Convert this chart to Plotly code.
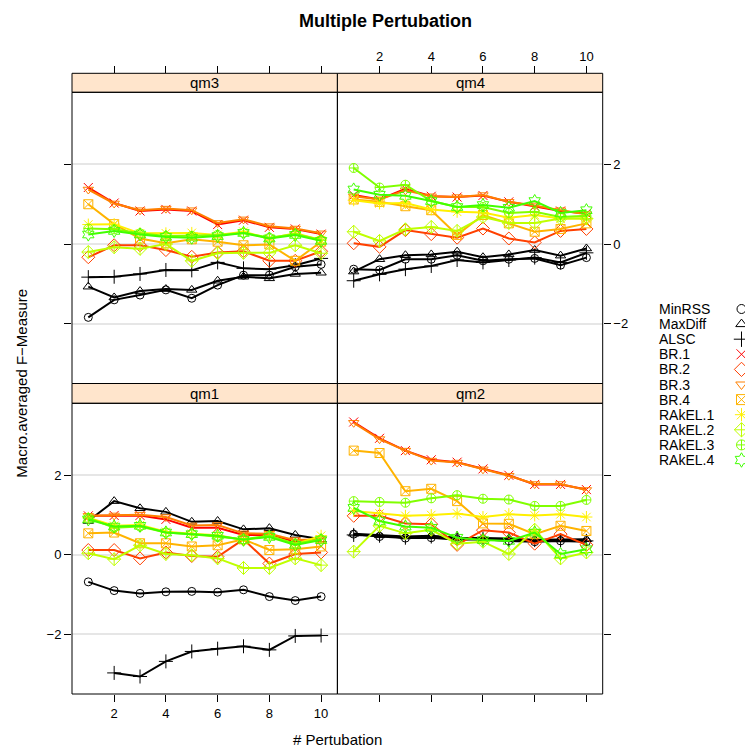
import plotly.graph_objects as go

W, H = 753, 751
OFF = 8  # page body margin of the browser
FW, FH = W - OFF, H - OFF

x_values = [1, 2, 3, 4, 5, 6, 7, 8, 9, 10]
methods = ["MinRSS", "MaxDiff", "ALSC", "BR.1", "BR.2", "BR.3", "BR.4",
           "RAkEL.1", "RAkEL.2", "RAkEL.3", "RAkEL.4"]
panels = ["qm1", "qm2", "qm3", "qm4"]
x_ticks = [2, 4, 6, 8, 10]
y_ticks = [-2, 0, 2]
y_tick_text = ["\u22122", "0", "2"]

# ---- qm1 ----
qm1_MinRSS = [-0.68, -0.90, -0.97, -0.93, -0.92, -0.94, -0.88, -1.05, -1.15, -1.05]
qm1_MaxDiff = [0.85, 1.35, 1.17, 1.08, 0.83, 0.85, 0.64, 0.67, 0.50, 0.39]
qm1_ALSC = [None, -2.97, -3.06, -2.68, -2.43, -2.36, -2.30, -2.39, -2.04, -2.03]
qm1_BR1 = [0.98, 0.99, 0.99, 0.89, 0.68, 0.68, 0.50, 0.50, 0.33, 0.37]
qm1_BR2 = [0.12, 0.12, -0.09, 0.06, -0.03, -0.05, 0.39, -0.22, 0.02, 0.06]
qm1_BR3 = [0.98, 0.99, 1.01, 0.95, 0.74, 0.75, 0.54, 0.53, 0.37, 0.39]
qm1_BR4 = [0.54, 0.56, 0.29, 0.29, 0.21, 0.24, 0.39, 0.12, 0.14, 0.21]
qm1_RAkEL1 = [0.93, 0.73, 0.75, 0.58, 0.53, 0.49, 0.37, 0.48, 0.27, 0.48]
qm1_RAkEL2 = [0.04, -0.11, 0.24, 0.02, -0.01, -0.09, -0.33, -0.33, -0.09, -0.26]
qm1_RAkEL3 = [0.93, 0.68, 0.71, 0.56, 0.52, 0.45, 0.39, 0.48, 0.28, 0.39]
qm1_RAkEL4 = [0.89, 0.71, 0.73, 0.56, 0.52, 0.48, 0.38, 0.45, 0.25, 0.37]

# ---- qm2 ----
qm2_MinRSS = [0.52, 0.46, 0.42, 0.43, 0.38, 0.39, 0.35, 0.33, 0.35, 0.33]
qm2_MaxDiff = [0.53, 0.49, 0.46, 0.48, 0.43, 0.42, 0.41, 0.38, 0.39, 0.39]
qm2_ALSC = [0.50, 0.48, 0.43, 0.46, 0.42, 0.41, 0.38, 0.37, 0.37, 0.35]
qm2_BR1 = [3.34, 2.93, 2.62, 2.39, 2.33, 2.16, 2.00, 1.77, 1.77, 1.64]
qm2_BR2 = [0.98, 0.98, 0.79, 0.77, 0.25, 0.62, 0.56, 0.28, 0.52, 0.25]
qm2_BR3 = [3.32, 2.91, 2.62, 2.37, 2.32, 2.15, 1.99, 1.78, 1.78, 1.63]
qm2_BR4 = [2.62, 2.56, 1.60, 1.66, 1.35, 0.79, 0.78, 0.52, 0.73, 0.60]
qm2_RAkEL1 = [1.10, 1.04, 0.98, 1.00, 1.04, 0.95, 1.02, 0.99, 1.02, 0.95]
qm2_RAkEL2 = [0.08, 0.73, 0.54, 0.63, 0.28, 0.33, 0.02, 0.63, -0.09, 0.06]
qm2_RAkEL3 = [1.35, 1.33, 1.31, 1.42, 1.50, 1.41, 1.39, 1.23, 1.23, 1.38]
qm2_RAkEL4 = [1.18, 0.85, 0.71, 0.68, 0.43, 0.37, 0.35, 0.56, 0.02, 0.14]

# ---- qm3 ----
qm3_MinRSS = [-1.84, -1.40, -1.28, -1.15, -1.36, -1.03, -0.78, -0.78, -0.57, -0.51]
qm3_MaxDiff = [-1.07, -1.34, -1.18, -1.13, -1.15, -0.92, -0.82, -0.86, -0.75, -0.72]
qm3_ALSC = [-0.83, -0.82, -0.75, -0.65, -0.66, -0.46, -0.61, -0.63, -0.53, -0.36]
qm3_BR1 = [1.42, 1.03, 0.83, 0.87, 0.83, 0.49, 0.60, 0.42, 0.38, 0.25]
qm3_BR2 = [-0.33, -0.03, -0.03, -0.15, -0.32, -0.21, -0.18, -0.42, -0.42, -0.18]
qm3_BR3 = [1.37, 1.02, 0.85, 0.89, 0.85, 0.53, 0.62, 0.45, 0.39, 0.27]
qm3_BR4 = [1.00, 0.50, 0.14, 0.02, 0.12, 0.06, -0.03, -0.01, -0.42, 0.06]
qm3_RAkEL1 = [0.49, 0.50, 0.27, 0.27, 0.28, 0.23, 0.31, 0.14, 0.27, 0.10]
qm3_RAkEL2 = [-0.20, -0.08, -0.12, 0.00, -0.42, -0.23, -0.22, -0.22, -0.03, -0.23]
qm3_RAkEL3 = [0.39, 0.37, 0.27, 0.20, 0.21, 0.23, 0.28, 0.16, 0.25, 0.10]
qm3_RAkEL4 = [0.24, 0.33, 0.24, 0.18, 0.16, 0.20, 0.28, 0.14, 0.23, 0.08]

# ---- qm4 ----
qm4_MinRSS = [-0.63, -0.65, -0.38, -0.38, -0.28, -0.42, -0.38, -0.36, -0.53, -0.34]
qm4_MaxDiff = [-0.69, -0.38, -0.28, -0.26, -0.19, -0.33, -0.26, -0.15, -0.29, -0.11]
qm4_ALSC = [-0.92, -0.76, -0.63, -0.55, -0.40, -0.46, -0.40, -0.34, -0.46, -0.22]
qm4_BR1 = [1.23, 1.12, 1.39, 1.20, 1.18, 1.22, 1.06, 0.95, 0.83, 0.77]
qm4_BR2 = [0.02, -0.07, 0.35, 0.25, 0.16, 0.39, 0.14, 0.04, 0.33, 0.38]
qm4_BR3 = [1.20, 1.12, 1.35, 1.20, 1.18, 1.23, 1.06, 0.97, 0.85, 0.75]
qm4_BR4 = [1.12, 1.06, 0.95, 0.85, 0.23, 0.73, 0.52, 0.31, 0.38, 0.52]
qm4_RAkEL1 = [1.10, 1.02, 1.03, 0.87, 0.81, 0.79, 0.66, 0.73, 0.64, 0.64]
qm4_RAkEL2 = [0.31, 0.08, 0.37, 0.43, 0.33, 0.68, 0.53, 0.53, 0.64, 0.64]
qm4_RAkEL3 = [1.91, 1.42, 1.49, 1.08, 0.93, 0.93, 0.78, 0.81, 0.68, 0.71]
qm4_RAkEL4 = [1.37, 1.24, 1.21, 1.08, 0.93, 0.98, 0.91, 1.08, 0.78, 0.85]

series = {
    "qm1": [qm1_MinRSS, qm1_MaxDiff, qm1_ALSC, qm1_BR1, qm1_BR2, qm1_BR3, qm1_BR4,
            qm1_RAkEL1, qm1_RAkEL2, qm1_RAkEL3, qm1_RAkEL4],
    "qm2": [qm2_MinRSS, qm2_MaxDiff, qm2_ALSC, qm2_BR1, qm2_BR2, qm2_BR3, qm2_BR4,
            qm2_RAkEL1, qm2_RAkEL2, qm2_RAkEL3, qm2_RAkEL4],
    "qm3": [qm3_MinRSS, qm3_MaxDiff, qm3_ALSC, qm3_BR1, qm3_BR2, qm3_BR3, qm3_BR4,
            qm3_RAkEL1, qm3_RAkEL2, qm3_RAkEL3, qm3_RAkEL4],
    "qm4": [qm4_MinRSS, qm4_MaxDiff, qm4_ALSC, qm4_BR1, qm4_BR2, qm4_BR3, qm4_BR4,
            qm4_RAkEL1, qm4_RAkEL2, qm4_RAkEL3, qm4_RAkEL4],
}

colors = ["#000000", "#000000", "#000000", "#FF0000", "#FF4000", "#FF8000",
          "#FFB300", "#FFF000", "#BFFF00", "#80FF00", "#40FF00"]
symbols = ["circle-open", "triangle-up-open", "cross-thin-open", "x-thin-open",
           "diamond-open", "triangle-down-open", "square-x-open", "asterisk-open",
           "diamond-cross-open", "circle-cross-open", "hexagram-open"]
msizes = [8, 9, 10, 9, 10, 9, 9, 10, 10, 9, 10]

FONT = "Liberation Sans, Arial, Helvetica, sans-serif"


def px_x(p):
    return (p - OFF) / FW


def px_y(p):
    return 1 - (p - OFF) / FH


L, M, R = 72.0, 337.4, 602.7
T1, P1, B1, P2, B2 = 73.3, 92.3, 383.5, 403.3, 694.0

xL, xM, xR = px_x(L), px_x(M), px_x(R)
yT1, yP1, yB1, yP2, yB2 = px_y(T1), px_y(P1), px_y(B1), px_y(P2), px_y(B2)

xlim = [0.37, 10.63]
ylim = [-3.5, 3.81]

fig = go.Figure()

axis_ids = {"qm1": ("x", "y"), "qm2": ("x2", "y2"), "qm3": ("x3", "y3"), "qm4": ("x4", "y4")}

for p in panels:
    xa, ya = axis_ids[p]
    for i, m in enumerate(methods):
        fig.add_trace(go.Scatter(
            x=x_values, y=series[p][i], xaxis=xa, yaxis=ya, mode="lines+markers",
            name=m, showlegend=False,
            line=dict(color=colors[i], width=2),
            marker=dict(symbol=symbols[i], size=msizes[i], color=colors[i],
                        line=dict(color=colors[i], width=1)),
            connectgaps=False, hoverinfo="skip"))

tickfont = dict(family=FONT, size=13, color="#000000")


def xaxis_cfg(domain, labels, side, anchor, position=None):
    d = dict(domain=domain, range=xlim, tickvals=x_ticks, ticks="outside", ticklen=7,
             tickcolor="#000000", tickwidth=1, showticklabels=labels, side=side,
             showgrid=False, zeroline=False, showline=False, tickfont=tickfont,
             anchor=anchor, fixedrange=True)
    if position is not None:
        d["position"] = position
    return d


def yaxis_cfg(domain, labels, side, anchor):
    return dict(domain=domain, range=ylim, tickvals=y_ticks, ticktext=y_tick_text,
                ticks="outside", ticklen=7, tickcolor="#000000", tickwidth=1,
                showticklabels=labels, side=side, showgrid=True, gridcolor="#E6E6E6",
                gridwidth=2, zeroline=False, showline=False, tickfont=tickfont,
                anchor=anchor, fixedrange=True)


fig.update_layout(
    xaxis=xaxis_cfg([xL, xM], True, "bottom", "y"),
    yaxis=yaxis_cfg([yB2, yP2], True, "left", "x"),
    xaxis2=xaxis_cfg([xM, xR], False, "bottom", "y2"),
    yaxis2=yaxis_cfg([yB2, yP2], False, "right", "x2"),
    xaxis3=xaxis_cfg([xL, xM], False, "top", "free", yT1),
    yaxis3=yaxis_cfg([yB1, yP1], False, "left", "x3"),
    xaxis4=xaxis_cfg([xM, xR], True, "top", "free", yT1),
    yaxis4=yaxis_cfg([yB1, yP1], True, "right", "x4"),
)

# legend drawn on its own hidden axis
leg_top, leg_bot = 299.0, 470.0
row0, row_step = 309.0, 15.1
fig.update_layout(
    xaxis5=dict(domain=[px_x(730), px_x(753)], range=[0, 1], visible=False,
                anchor="y5", fixedrange=True),
    yaxis5=dict(domain=[px_y(leg_bot), px_y(leg_top)],
                range=[(leg_bot - row0) / row_step, (leg_top - row0) / row_step],
                visible=False, anchor="x5", fixedrange=True),
)
legend_rows = list(range(len(methods)))
for i, m in enumerate(methods):
    fig.add_trace(go.Scatter(
        x=[0.5], y=[legend_rows[i]], xaxis="x5", yaxis="y5", mode="markers",
        showlegend=False, hoverinfo="skip", cliponaxis=False,
        marker=dict(symbol=symbols[i], size=msizes[i] + 1, color=colors[i],
                    line=dict(color=colors[i], width=1))))

annotations = []
for i, m in enumerate(methods):
    annotations.append(dict(x=px_x(657), y=legend_rows[i], xref="paper", yref="y5",
                            text=m, showarrow=False, xanchor="left", yanchor="middle",
                            font=dict(family=FONT, size=14, color="#000000")))

shapes = []
strip_rects = {
    "qm1": (xL, xM, yP2, yB1), "qm2": (xM, xR, yP2, yB1),
    "qm3": (xL, xM, yP1, yT1), "qm4": (xM, xR, yP1, yT1),
}
plot_rects = {
    "qm1": (xL, xM, yB2, yP2), "qm2": (xM, xR, yB2, yP2),
    "qm3": (xL, xM, yB1, yP1), "qm4": (xM, xR, yB1, yP1),
}
for p in panels:
    x0, x1, y0, y1 = strip_rects[p]
    shapes.append(dict(type="rect", xref="paper", yref="paper", x0=x0, x1=x1, y0=y0, y1=y1,
                       fillcolor="#FFE5CC", line=dict(color="#000000", width=1), layer="below"))
    annotations.append(dict(x=(x0 + x1) / 2, y=(y0 + y1) / 2, xref="paper", yref="paper",
                            text=p, showarrow=False, xanchor="center", yanchor="middle",
                            font=dict(family=FONT, size=15, color="#000000")))
    x0, x1, y0, y1 = plot_rects[p]
    shapes.append(dict(type="rect", xref="paper", yref="paper", x0=x0, x1=x1, y0=y0, y1=y1,
                       line=dict(color="#000000", width=1), layer="above"))

annotations.append(dict(x=px_x(385), y=px_y(20.5), xref="paper", yref="paper",
                        text="<b>Multiple Pertubation</b>", showarrow=False,
                        xanchor="center", yanchor="middle",
                        font=dict(family=FONT, size=18, color="#000000")))
annotations.append(dict(x=px_x((L + R) / 2), y=px_y(739), xref="paper", yref="paper",
                        text="# Pertubation", showarrow=False, xanchor="center", yanchor="middle",
                        font=dict(family=FONT, size=15, color="#000000")))
annotations.append(dict(x=px_x(22), y=px_y((T1 + B2) / 2), xref="paper", yref="paper",
                        text="Macro.averaged F\u2212Measure", showarrow=False, textangle=-90,
                        xanchor="center", yanchor="middle",
                        font=dict(family=FONT, size=15, color="#000000")))

fig.update_layout(
    width=FW, height=FH, autosize=False,
    margin=dict(l=0, r=0, t=0, b=0, pad=0),
    paper_bgcolor="white", plot_bgcolor="white",
    showlegend=False, shapes=shapes, annotations=annotations,
    font=dict(family=FONT, color="#000000"),
)

fig.write_html("out.html")
